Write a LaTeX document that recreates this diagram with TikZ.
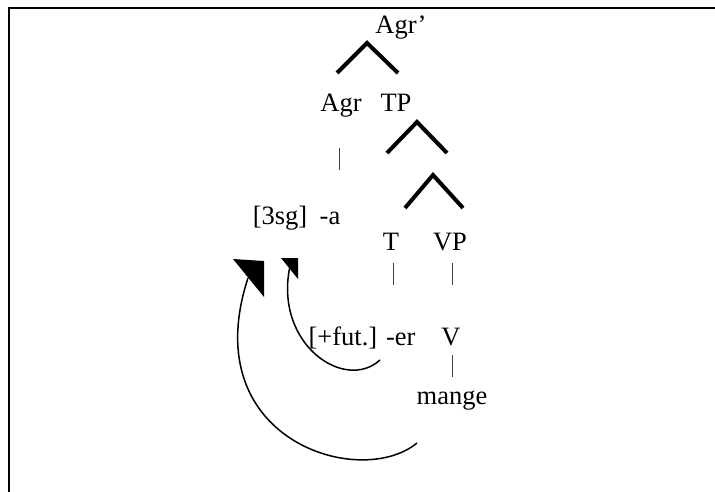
\documentclass[tikz,border=0pt]{standalone}
\usepackage{fontspec}
\setmainfont{Liberation Serif}
\begin{document}
\begin{tikzpicture}[x=1pt,y=-1pt,
  lab/.style={anchor=base,inner sep=0pt,font=\fontsize{26.5}{31}\selectfont},
  caret/.style={line width=4pt,line cap=butt,line join=miter},
  bar/.style={line width=1pt,black!75},
  mv/.style={line width=1.5pt},
  head/.style={fill=black,draw=none}]
\useasboundingbox (0,0) rectangle (715,492);
% frame
\draw[line width=2pt] (8.5,492) -- (8.5,7.7) -- (715,7.7);
% labels
\node[lab] (agrbar) at (401,34) {Agr’};
\node[lab] (agr) at (341,112) {Agr};
\node[lab] (tp) at (396,112) {TP};
\node[lab] (sg) at (280,224) {[3sg]};
\node[lab] (a) at (330,224) {-a};
\node[lab] (t) at (391,250) {T};
\node[lab] (vp) at (450,250) {VP};
\node[lab] (fut) at (362,345) {[+fut.] -er};
\node[lab] (v) at (451,345) {V};
\node[lab] (mange) at (452,404) {mange};
% carets
\draw[caret] (337,73) -- (367,43) -- (398,73);
\draw[caret] (387,153) -- (417,122) -- (447,153);
\draw[caret] (405,208) -- (433,175) -- (463,208);
% vertical bars
\draw[bar] (339,148) -- (339,170);
\draw[bar] (393,263) -- (393,285);
\draw[bar] (452,263) -- (452,285);
\draw[bar] (452,355) -- (452,377);
% movement arrows
\coordinate (s1) at (380,360);
\coordinate (e1) at (289.5,268.5);
\draw[mv] (s1) .. controls (345,392) and (275,345) .. (e1);
\fill[head] (281,258) -- (298,258) -- (298,279) -- cycle;
\coordinate (s2) at (417,443);
\coordinate (e2) at (248,278);
\draw[mv] (s2) .. controls (360,490) and (195,440) .. (e2);
\fill[head] (233,259) -- (264,261) -- (264,297) -- cycle;
\end{tikzpicture}
\end{document}
